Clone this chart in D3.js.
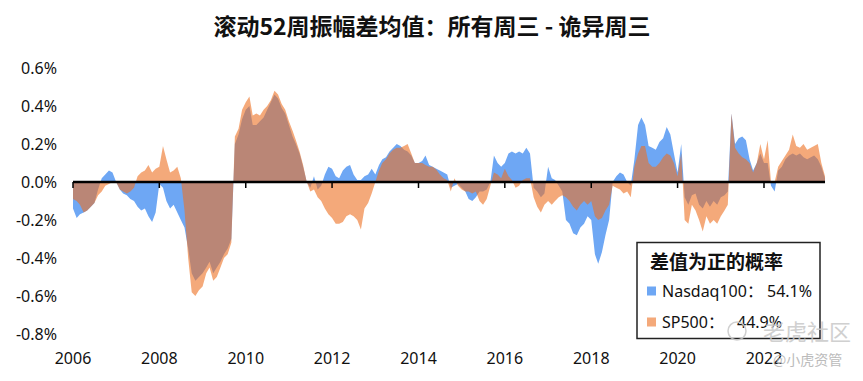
<!DOCTYPE html>
<html>
<head>
<meta charset="utf-8">
<script src="https://cdn.jsdelivr.net/npm/d3@7"></script>
<style>
  body { margin: 0; background: #fff; }
  svg { display: block; }
</style>
</head>
<body>
<svg id="chart" width="863" height="381"></svg>
<script>
// monthly samples of the rolling 52-week difference, in %, starting Jan 2006
const startMonth = new Date(2006, 0, 1);

const nasdaq = [
  // 2006
  -0.14, -0.19, -0.17, -0.16, -0.15, -0.13, -0.11, -0.04, 0.02, 0.04, 0.06, 0.05,
  // 2007
  0.0, -0.04, -0.06, -0.07, -0.09, -0.1, -0.13, -0.15, -0.14, -0.18, -0.21, -0.16,
  // 2008
  -0.01, -0.03, -0.1, -0.14, -0.12, -0.16, -0.2, -0.24, -0.35, -0.48, -0.52, -0.5,
  // 2009
  -0.48, -0.45, -0.42, -0.48, -0.45, -0.42, -0.38, -0.35, -0.3, 0.2, 0.25, 0.33,
  // 2010
  0.38, 0.4, 0.3, 0.3, 0.32, 0.34, 0.38, 0.42, 0.46, 0.44, 0.39, 0.36,
  // 2011
  0.3, 0.24, 0.2, 0.15, 0.08, 0.0, -0.03, 0.03, -0.04, -0.02, 0.04, 0.08,
  // 2012
  0.07, 0.03, 0.02, 0.06, 0.08, 0.09, 0.04, 0.01, 0.01, 0.03, 0.04, 0.07,
  // 2013
  0.04, 0.09, 0.12, 0.13, 0.16, 0.18, 0.2, 0.19, 0.17, 0.16, 0.14, 0.1,
  // 2014
  0.1, 0.11, 0.14, 0.09, 0.08, 0.07, 0.06, 0.05, 0.04, -0.03, -0.02, -0.01,
  // 2015
  -0.03, -0.05, -0.09, -0.1, -0.08, -0.05, -0.05, -0.04, 0.0, 0.14, 0.1, 0.08,
  // 2016
  0.1, 0.15, 0.16, 0.15, 0.16, 0.15, 0.18, 0.15, -0.03, -0.05, -0.08, -0.06,
  // 2017
  0.08, 0.02, 0.01, -0.02, -0.05, -0.2, -0.22, -0.27, -0.28, -0.24, -0.22, -0.18,
  // 2018
  -0.2, -0.38, -0.43, -0.37, -0.28, -0.2, 0.0, 0.03, 0.05, 0.04, 0.0, -0.02,
  // 2019
  0.12, 0.3, 0.34, 0.3, 0.19, 0.18, 0.17, 0.21, 0.23, 0.29, 0.25, 0.15,
  // 2020
  0.05, 0.2, -0.08, -0.12, -0.07, -0.06, -0.12, -0.14, -0.1, -0.13, -0.1, -0.12,
  // 2021
  -0.08, -0.07, -0.05, 0.36, 0.2, 0.23, 0.24, 0.22, 0.12, 0.06, 0.1, 0.15,
  // 2022
  0.1, 0.1, -0.02, -0.05, 0.06, 0.08, 0.12, 0.14, 0.15, 0.14, 0.15, 0.13,
  // 2023
  0.12, 0.13, 0.14, 0.12, 0.08, 0.02
];

const sp500 = [
  // 2006
  -0.09, -0.1, -0.12, -0.16, -0.15, -0.13, -0.11, -0.07, -0.05, -0.02, -0.01, 0.0,
  // 2007
  0.0, -0.04, -0.05, -0.06, -0.05, -0.03, 0.03, 0.05, 0.06, 0.09, 0.05, 0.07,
  // 2008
  0.08, 0.19, 0.12, 0.05, 0.06, 0.08, 0.02, -0.15, -0.4, -0.58, -0.6, -0.57,
  // 2009
  -0.55, -0.48, -0.45, -0.52, -0.5, -0.45, -0.4, -0.38, -0.32, 0.24, 0.28, 0.38,
  // 2010
  0.42, 0.45, 0.35, 0.36, 0.35, 0.38, 0.4, 0.43, 0.48, 0.46, 0.41, 0.38,
  // 2011
  0.32, 0.27, 0.22, 0.16, 0.09, 0.0, -0.05, -0.04, -0.08, -0.1, -0.14, -0.17,
  // 2012
  -0.19, -0.22, -0.22, -0.21, -0.18, -0.17, -0.18, -0.2, -0.25, -0.14, -0.11, -0.06,
  // 2013
  0.0, 0.06, 0.1, 0.12, 0.15, 0.17, 0.18, 0.18, 0.19, 0.2, 0.15, 0.1,
  // 2014
  0.1, 0.1, 0.09, 0.08, 0.08, 0.065, 0.04, 0.02, 0.01, -0.05, 0.02, -0.02,
  // 2015
  -0.04, -0.05, -0.05, -0.06, -0.05, -0.1, -0.12, -0.09, -0.02, 0.05, 0.04, 0.02,
  // 2016
  0.07, 0.03, 0.01, -0.03, -0.02, 0.01, 0.02, 0.02, -0.08, -0.13, -0.16, -0.12,
  // 2017
  -0.1, -0.12, -0.1, -0.08, -0.07, -0.08, -0.1, -0.13, -0.15, -0.12, -0.1, -0.12,
  // 2018
  -0.1, -0.18, -0.2, -0.19, -0.15, -0.12, -0.02, -0.03, -0.04, -0.06, -0.05, -0.08,
  // 2019
  0.08, 0.15, 0.19, 0.19, 0.1, 0.08, 0.08, 0.1, 0.13, 0.15, 0.14, 0.1,
  // 2020
  0.03, 0.15, -0.2, -0.22, -0.12, -0.15, -0.2, -0.26, -0.18, -0.22, -0.2, -0.22,
  // 2021
  -0.18, -0.15, -0.12, 0.36, 0.18, 0.15, 0.13, 0.12, 0.1, 0.05, 0.1, 0.2,
  // 2022
  0.12, 0.22, 0.0, 0.0, 0.08, 0.11, 0.14, 0.17, 0.25, 0.19, 0.18, 0.2,
  // 2023
  0.17, 0.18, 0.19, 0.2, 0.1, 0.03
];

const seriesNames = ["Nasdaq100", "SP500"];
const positiveShare = ["54.1%", "44.9%"];
const yTicks = [-0.8, -0.6, -0.4, -0.2, 0.0, 0.2, 0.4, 0.6];
const xTickYears = [2006, 2008, 2010, 2012, 2014, 2016, 2018, 2020, 2022];

const title = "滚动52周振幅差均值：所有周三 - 诡异周三";
const legendTitle = "差值为正的概率";

const blue = "#6ea7f4";
const orange = "rgb(236,112,34)";

const svg = d3.select("#chart");
const font = "'Noto Sans', 'Noto Sans CJK SC', sans-serif";

const dates = nasdaq.map((_, i) => d3.timeMonth.offset(startMonth, i));

const x = d3.scaleTime()
  .domain([new Date(2006, 0, 1), new Date(2022, 0, 1)])
  .range([73, 764]);
const y = d3.scaleLinear()
  .domain([-0.8, 0.6])
  .range([334, 68]);

function areaFor(values) {
  return d3.area()
    .x((d, i) => x(dates[i]))
    .y0(y(0))
    .y1(d => y(d))(values);
}

svg.append("path")
  .attr("d", areaFor(nasdaq))
  .attr("fill", blue);

svg.append("path")
  .attr("d", areaFor(sp500))
  .attr("fill", orange)
  .attr("fill-opacity", 0.6);

// zero line with year ticks
const xEnd = x(dates[dates.length - 1]);
svg.append("line")
  .attr("x1", x(dates[0])).attr("x2", xEnd)
  .attr("y1", y(0)).attr("y2", y(0))
  .attr("stroke", "#000")
  .attr("stroke-width", 2.5);

svg.append("g")
  .selectAll("line")
  .data(xTickYears)
  .join("line")
  .attr("x1", d => x(new Date(d, 0, 1)))
  .attr("x2", d => x(new Date(d, 0, 1)))
  .attr("y1", y(0))
  .attr("y2", y(0) + 6)
  .attr("stroke", "#000")
  .attr("stroke-width", 1.5);

svg.append("g")
  .selectAll("text")
  .data(xTickYears)
  .join("text")
  .attr("x", d => x(new Date(d, 0, 1)))
  .attr("y", 364)
  .attr("text-anchor", "middle")
  .attr("font-family", font)
  .attr("font-size", 16)
  .attr("fill", "#111")
  .text(d => d);

svg.append("g")
  .selectAll("text")
  .data(yTicks)
  .join("text")
  .attr("x", 57)
  .attr("y", d => y(d))
  .attr("dy", "0.35em")
  .attr("text-anchor", "end")
  .attr("font-family", font)
  .attr("font-size", 16)
  .attr("fill", "#111")
  .text(d => d.toFixed(1) + "%");

svg.append("text")
  .attr("x", 432)
  .attr("y", 35)
  .attr("text-anchor", "middle")
  .attr("font-family", "'Noto Sans CJK SC', sans-serif")
  .attr("font-weight", "bold")
  .attr("font-size", 23)
  .attr("fill", "#111")
  .text(title);

// legend box
const lg = svg.append("g");
lg.append("rect")
  .attr("x", 637).attr("y", 242.5)
  .attr("width", 183).attr("height", 96)
  .attr("fill", "#fff")
  .attr("stroke", "#222")
  .attr("stroke-width", 1.5);

lg.append("text")
  .attr("x", 650).attr("y", 269)
  .attr("font-family", "'Noto Sans CJK SC', sans-serif")
  .attr("font-weight", "bold")
  .attr("font-size", 19)
  .attr("fill", "#111")
  .text(legendTitle);

const items = lg.selectAll("g.item")
  .data(seriesNames)
  .join("g")
  .attr("class", "item")
  .attr("transform", (d, i) => `translate(647,${291 + i * 31})`);

items.append("rect")
  .attr("x", 0).attr("y", -4.5)
  .attr("width", 9).attr("height", 9)
  .attr("fill", (d, i) => i === 0 ? blue : orange)
  .attr("fill-opacity", (d, i) => i === 0 ? 1 : 0.6);

items.append("text")
  .attr("x", 15).attr("dy", "0.35em")
  .attr("font-family", "'Noto Sans', 'Noto Sans CJK SC', sans-serif")
  .attr("font-size", 16)
  .attr("fill", "#111")
  .text(d => d + "：");

items.append("text")
  .attr("x", (d, i) => i === 0 ? 120 : 90)
  .attr("dy", "0.35em")
  .attr("font-family", font)
  .attr("font-size", 16)
  .attr("fill", "#111")
  .text((d, i) => positiveShare[i]);

// watermark
const wm = svg.append("g").attr("fill", "#c8c8c8").attr("opacity", 0.85);
wm.append("circle")
  .attr("cx", 737).attr("cy", 331).attr("r", 9)
  .attr("fill", "none").attr("stroke", "#c8c8c8").attr("stroke-width", 1.5);
wm.append("text")
  .attr("x", 763).attr("y", 340)
  .attr("font-family", "'Noto Sans CJK SC', sans-serif")
  .attr("font-size", 22)
  .text("老虎社区");
wm.append("text")
  .attr("x", 773).attr("y", 365)
  .attr("font-family", "'Noto Sans CJK SC', sans-serif")
  .attr("font-size", 14)
  .attr("fill", "#b0b0b0")
  .text("@小虎资管");
</script>
</body>
</html>
